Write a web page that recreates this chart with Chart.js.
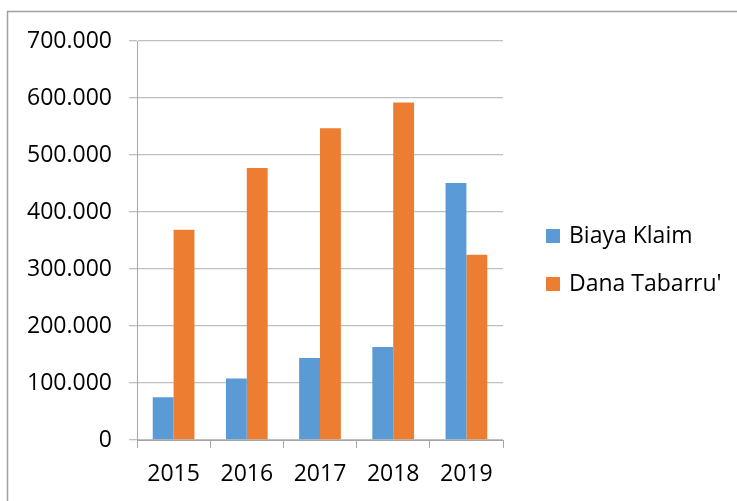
<!DOCTYPE html>
<html>
<head>
<meta charset="utf-8">
<script src="https://cdn.jsdelivr.net/npm/chart.js@4/dist/chart.umd.min.js"></script>
<style>
    html, body { margin: 0; padding: 0; background: #fff; }
    #wrap { width: 737px; height: 501px; position: relative; }
</style>
</head>
<body>
<div id="wrap"><canvas id="klaimChart"></canvas></div>
<script>
const years = ['2015', '2016', '2017', '2018', '2019'];
const biayaKlaim = [75000, 108000, 144000, 163000, 451000];
const danaTabarru = [369000, 477000, 547000, 592000, 325000];
const seriesNames = ['Biaya Klaim', "Dana Tabarru'"];
const seriesColors = ['#5b9bd5', '#ed7d31'];

const AXIS_GRAY = '#a6a6a6';
const GRID_GRAY = '#bfbfbf';
const FONT = "'Open Sans', 'DejaVu Sans', sans-serif";

// Thousands with dots, e.g. 700.000
function formatNumber(num) {
    return String(num).replace(/\B(?=(\d{3})+(?!\d))/g, '.');
}

// Outer frame (top and left edges only show in view)
const framePlugin = {
    id: 'frame',
    beforeDraw(chart) {
        const ctx = chart.ctx;
        ctx.save();
        ctx.fillStyle = '#fff';
        ctx.fillRect(0, 0, chart.width, chart.height);
        ctx.strokeStyle = '#a0a0a0';
        ctx.lineWidth = 1.5;
        ctx.beginPath();
        ctx.moveTo(7.5, chart.height);
        ctx.lineTo(7.5, 11.5);
        ctx.lineTo(chart.width, 11.5);
        ctx.stroke();
        ctx.restore();
    }
};

// Legend to the right of the plot
const sideLegend = {
    id: 'sideLegend',
    afterDraw(chart) {
        const ctx = chart.ctx;
        ctx.save();
        ctx.font = '23px ' + FONT;
        ctx.textBaseline = 'middle';
        ctx.textAlign = 'left';
        chart.data.datasets.forEach((ds, i) => {
            const cy = 236 + i * 48;
            ctx.fillStyle = ds.backgroundColor;
            ctx.fillRect(546, cy - 7, 14, 14);
            ctx.fillStyle = '#000';
            ctx.fillText(ds.label, 569, cy);
        });
        ctx.restore();
    }
};

Chart.defaults.font.family = FONT;
Chart.defaults.font.size = 23;
Chart.defaults.color = '#000';

const ctx = document.getElementById('klaimChart').getContext('2d');
const klaimChart = new Chart(ctx, {
    type: 'bar',
    data: {
        labels: years,
        datasets: [{
            label: seriesNames[0],
            data: biayaKlaim,
            backgroundColor: seriesColors[0]
        }, {
            label: seriesNames[1],
            data: danaTabarru,
            backgroundColor: seriesColors[1]
        }]
    },
    options: {
        responsive: true,
        maintainAspectRatio: false,
        animation: false,
        categoryPercentage: 0.57,
        barPercentage: 1,
        layout: {
            padding: { top: 41, right: 234, bottom: 0, left: 0 }
        },
        plugins: {
            legend: { display: false },
            tooltip: { enabled: false }
        },
        scales: {
            x: {
                afterFit: scale => { scale.height = 61; },
                grid: {
                    display: true,
                    drawOnChartArea: false,
                    drawTicks: true,
                    tickLength: 8,
                    color: AXIS_GRAY
                },
                border: { display: true, color: AXIS_GRAY, width: 1 },
                ticks: { padding: 13, font: { size: 23 } }
            },
            y: {
                min: 0,
                max: 700000,
                afterFit: scale => { scale.width = 137; },
                grid: {
                    color: GRID_GRAY,
                    tickLength: 8,
                    lineWidth: 1.3
                },
                border: { display: true, color: AXIS_GRAY, width: 1 },
                ticks: {
                    stepSize: 100000,
                    padding: 17,
                    font: { size: 23 },
                    callback: value => formatNumber(value)
                }
            }
        }
    },
    plugins: [framePlugin, sideLegend]
});
</script>
</body>
</html>
